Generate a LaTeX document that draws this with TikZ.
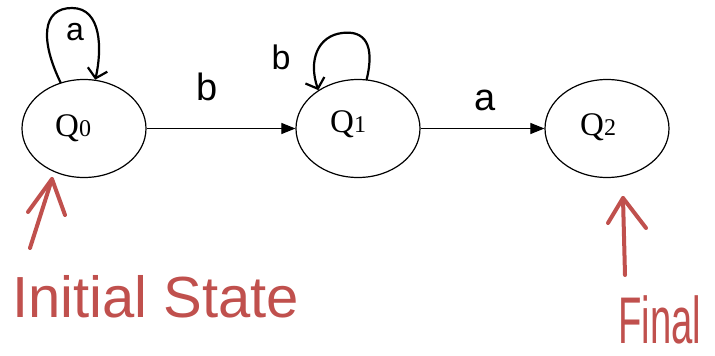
\documentclass[tikz,border=0pt]{standalone}
\usepackage{fontspec}
\setmainfont{Liberation Serif}
\newfontfamily\handfont{Liberation Sans}
\usetikzlibrary{arrows.meta,shapes.geometric}
\definecolor{pen}{HTML}{C0504D}
\begin{document}
\begin{tikzpicture}[x=1pt,y=-1pt,
  state/.style={draw, line width=1.2pt, ellipse, minimum width=124pt, minimum height=98pt, inner sep=0pt},
  qlabel/.style={anchor=base west, inner sep=0pt, font=\fontsize{33}{33}\selectfont},
  edge/.style={line width=1.1pt, -{Triangle[length=14pt,width=11pt]}},
  handline/.style={line width=2.2pt, line cap=round, -{Straight Barb[length=9pt,width=20pt,line width=2.2pt]}},
  handtext/.style={inner sep=0pt, font=\handfont\fontsize{38}{38}\selectfont},
  redline/.style={draw=pen, line width=4pt, line cap=round, line join=round},
  redtext/.style={text=pen, inner sep=0pt, anchor=base west, font=\handfont\fontsize{58}{58}\selectfont}]
\useasboundingbox (0,0) rectangle (715,356);
\fill[white] (0,0) rectangle (715,356);
% states
\node[state] (q0) at (84,128.5) {};
\node[state] (q1) at (358,128.5) {};
\node[state] (q2) at (607,128.5) {};
\node[qlabel] (l0) at (55,136) {Q\fontsize{24}{24}\selectfont 0};
\node[qlabel] (l1) at (330,132) {Q\fontsize{24}{24}\selectfont 1};
\node[qlabel] (l2) at (580,135) {Q\fontsize{24}{24}\selectfont 2};
% transitions
\draw[edge] (q0) -- (q1);
\draw[edge] (q1) -- (q2);
\node[handtext] (tb) at (207,87) {b};
\node[handtext] (ta) at (485,100) {a};
% loops
\draw[handline] (q0.117) .. controls (40,40) and (42,8) .. (72,8) .. controls (102,8) and (102,50) .. (q0.77);
\node[handtext, font=\handfont\fontsize{32}{32}\selectfont] (la) at (75,32) {a};
\draw[handline] (q1.80) .. controls (375,45) and (365,30) .. (342,33) .. controls (318,36) and (308,60) .. (q1.136);
\node[handtext, font=\handfont\fontsize{34}{34}\selectfont] (lb) at (281,57) {b};
% annotations
\coordinate (ia) at (30,248);
\coordinate (ih) at (52,179);
\coordinate (il) at (28,212);
\coordinate (ir) at (65,215);
\draw[redline] (ia) -- (ih);
\draw[redline] (il) -- (ih) -- (ir);
\node[redtext] (init) at (12,317) {Initial State};
\coordinate (fa) at (625,275);
\coordinate (fh) at (623,198);
\coordinate (fl) at (608,223);
\coordinate (fr) at (646,228);
\draw[redline] (fa) -- (fh);
\draw[redline] (fl) -- (fh) -- (fr);
\node[redtext, font=\handfont\fontsize{66}{66}\selectfont] (fin) at (618,343) {\scalebox{0.58}[1]{Final}};
\end{tikzpicture}
\end{document}
